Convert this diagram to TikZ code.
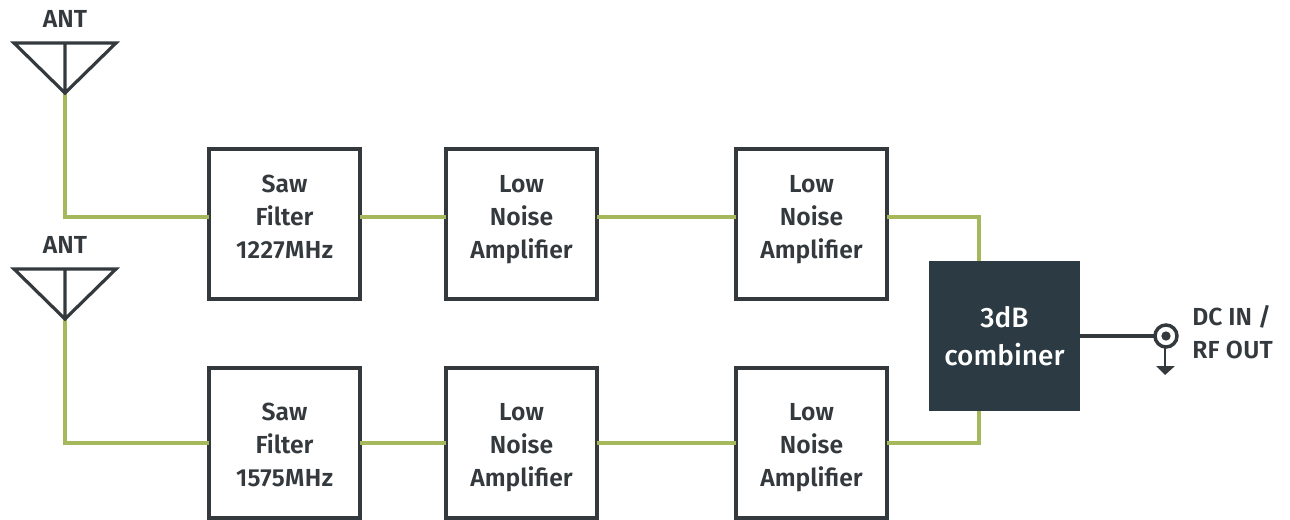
\documentclass[tikz,border=0pt]{standalone}
\usepackage{fontspec}
\setmainfont{Fira Sans}[BoldFont={Fira Sans SemiBold}]
\newfontfamily\medfont{Fira Sans Medium}
\definecolor{ink}{HTML}{33393D}
\definecolor{lineg}{HTML}{A6B85C}
\definecolor{navy}{HTML}{2B3A43}
\newcommand{\upA}{\rule{0pt}{16pt}}
\newcommand{\upB}{\rule[-13.7pt]{0pt}{13.7pt}}
\newcommand{\loA}{\rule{0pt}{20pt}}
\newcommand{\loB}{\rule[-4.2pt]{0pt}{4.2pt}}
\tikzset{
  block/.style={draw=ink,line width=2.4pt,fill=white,text=ink,align=center,
    minimum width=113.25pt,minimum height=112.5pt,inner sep=0pt,outer sep=0pt,
    font=\fontsize{18.5}{24.75}\selectfont\bfseries},
  dark/.style={fill=navy,text=white,align=center,minimum width=113.25pt,minimum height=112.5pt,
    inner sep=0pt,outer sep=0pt,font=\fontsize{21}{28.5}\selectfont\medfont},
  rf/.style={draw=lineg,line width=2.6pt,line join=miter},
  ant/.style={draw=ink,line width=2.4pt,line join=miter},
  lbl/.style={text=ink,inner sep=0pt,font=\fontsize{18.5}{24.75}\selectfont\bfseries},
}
\begin{document}
\begin{tikzpicture}[x=0.75pt,y=-0.75pt]
\useasboundingbox (0,0) rectangle (1290,519);
% row levels
\coordinate (r1) at (0,217);
\coordinate (r2) at (0,443);
% blocks
\node[block] (s1) at (284.5,224) {\upA Saw\\Filter\\\addfontfeature{LetterSpace=1.5}1227MHz\upB};
\node[block] (a1) at (521.5,224) {\upA Low\\Noise\\Amplifier\upB};
\node[block] (b1) at (811.5,224) {\upA Low\\Noise\\Amplifier\upB};
\node[block] (s2) at (284.5,443) {\loA Saw\\Filter\\\addfontfeature{LetterSpace=1.5}1575MHz\loB};
\node[block] (a2) at (521.5,443) {\loA Low\\Noise\\Amplifier\loB};
\node[block] (b2) at (811.5,443) {\loA Low\\Noise\\Amplifier\loB};
\node[dark] (c) at (1004.5,336) {3dB\\combiner};
% antennas
\coordinate (t1) at (65,43);
\coordinate (p1) at (65,93);
\coordinate (t2) at (65,269);
\coordinate (p2) at (65,319);
\node[lbl] (ant1) at (65,19) {ANT};
\node[lbl] (ant2) at (65,245) {ANT};
% connectors
\coordinate (j1) at (979,261);
\coordinate (j2) at (979,411);
\draw[rf] (p1) |- (r1 -| s1.west);
\draw[rf] (s1.east |- r1) -- (a1.west |- r1);
\draw[rf] (a1.east |- r1) -- (b1.west |- r1);
\draw[rf] (b1.east |- r1) -| (j1);
\draw[rf] (p2) |- (r2 -| s2.west);
\draw[rf] (s2.east) -- (a2.west);
\draw[rf] (a2.east) -- (b2.west);
\draw[rf] (b2.east) -| (j2);
\draw[ant] (14,43) -- (116,43) -- (p1) -- cycle (t1) -- (p1);
\draw[ant] (14,269) -- (116,269) -- (p2) -- cycle (t2) -- (p2);
% output connector
\node[draw=ink,line width=2.6pt,circle,minimum size=16.5pt,inner sep=0pt,outer sep=0pt] (o) at (1166,336) {};
\node[fill=ink,circle,minimum size=7pt,inner sep=0pt] (od) at (1166,336) {};
\coordinate (g) at (1165,367);
\draw[draw=ink,line width=2.4pt] (c.east |- o) -- (o.west);
\draw[draw=ink,line width=2.2pt] (g |- o.south) -- (g);
\fill[ink] (1156,366) -- (1175,366) -- (1165,375) -- cycle;
\node[lbl,anchor=base west] (dc) at (1192,325) {DC IN /};
\node[lbl,anchor=base west] (rfo) at (1192,358) {\addfontfeature{LetterSpace=1}RF OUT};
\end{tikzpicture}
\end{document}
